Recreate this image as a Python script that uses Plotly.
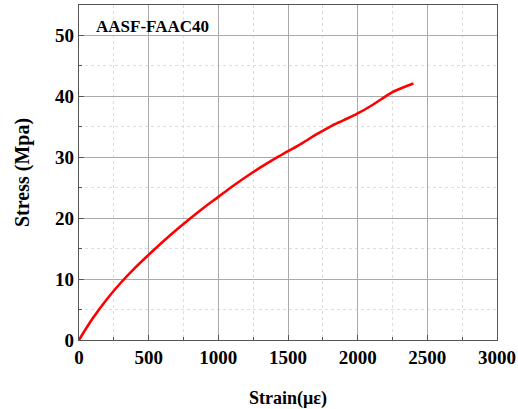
import plotly.graph_objects as go

strain = [0, 100, 200, 300, 400, 500, 600, 700, 800, 900, 1000, 1100, 1200, 1300,
          1400, 1500, 1600, 1700, 1800, 1900, 2000, 2100, 2200, 2250, 2300, 2400]
stress = [0, 3.6, 6.7, 9.4, 11.8, 14.0, 16.1, 18.1, 20.0, 21.8, 23.5, 25.2, 26.8, 28.3,
          29.7, 31.0, 32.3, 33.7, 35.0, 36.1, 37.2, 38.5, 40.0, 40.7, 41.2, 42.1]
label = "AASF-FAAC40"

fam = "Liberation Serif, Times New Roman, serif"

fig = go.Figure()
fig.add_trace(go.Scatter(x=strain, y=stress, mode="lines", line_shape="spline",
                         line=dict(color="#ff0000", width=2.6), showlegend=False))

axis_common = dict(
    showline=True, linecolor="#555", linewidth=1.2, mirror=True,
    ticks="inside", ticklen=5, tickcolor="#555",
    showgrid=True, gridcolor="#aaaaaa", gridwidth=1,
    tickfont=dict(size=19, family=fam, color="black", weight="bold"), zeroline=False,
)

fig.update_xaxes(range=[0, 3000], tickvals=[0, 500, 1000, 1500, 2000, 2500, 3000],
                 minor=dict(dtick=250, showgrid=True, gridcolor="#dddddd", griddash="dot",
                            ticks="inside", ticklen=3, tickcolor="#555"),
                 title=dict(text="Strain(με)", font=dict(size=18, family=fam, color="black", weight="bold"),
                            standoff=24),
                 automargin=False,
                 **axis_common)
fig.update_yaxes(range=[0, 55], tickvals=[0, 10, 20, 30, 40, 50],
                 minor=dict(dtick=5, showgrid=True, gridcolor="#dddddd", griddash="dot",
                            ticks="inside", ticklen=3, tickcolor="#555"),
                 title=dict(text="Stress (Mpa)", font=dict(size=20, family=fam, color="black", weight="bold"),
                            standoff=20),
                 automargin=True,
                 **axis_common)

fig.add_annotation(x=0.036, y=51.4, xref="paper", yref="y", text=label,
                   showarrow=False, xanchor="left", yanchor="middle",
                   font=dict(size=17, family=fam, color="black", weight="bold"))

fig.update_layout(width=518, height=409, margin=dict(l=79, r=21, t=5, b=69),
                  plot_bgcolor="white", paper_bgcolor="white")

fig.write_html("out.html")
